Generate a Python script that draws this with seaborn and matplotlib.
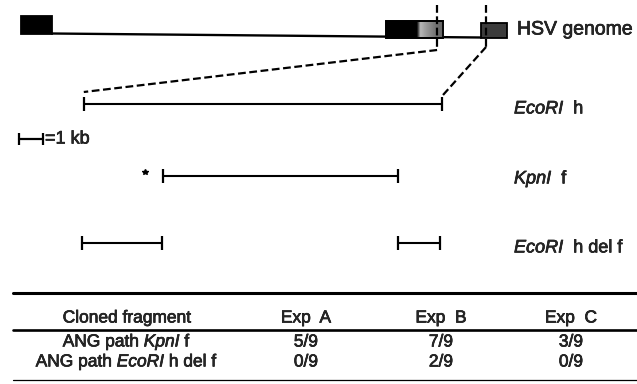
import numpy as np
import pandas as pd
import matplotlib
matplotlib.use("Agg")
import matplotlib.pyplot as plt
import matplotlib.patheffects as pe
from matplotlib.patches import Rectangle
import seaborn as sns

# ---------------- data (map positions in kb) ----------------
fragment_names = ["EcoRI h", "KpnI f", "EcoRI h del f (left)", "EcoRI h del f (right)"]
fragment_start_kb = [2.70, 6.00, 2.62, 15.79]
fragment_end_kb = [17.63, 15.79, 5.96, 17.54]
fragment_track = [0, 1, 2, 2]
track_labels = ["$\\mathit{EcoRI}$  h", "$\\mathit{KpnI}$  f", "$\\mathit{EcoRI}$  h del f"]

genome_line_kb = [1.37, 19.25]
genome_box_start_kb = [0.08, 15.29, 19.25]
genome_box_end_kb = [1.37, 17.67, 20.33]
genome_box_fill = ["black", "black", "#3c3c3c"]
gradient_start_kb = 16.58
zoom_marks_kb = [17.42, 19.46]

scale_bar_kb = [0.0, 1.0]
asterisk_kb = 5.25

table_header = ["Cloned fragment", "Exp  A", "Exp  B", "Exp  C"]
row_labels = ["ANG path $\\mathit{KpnI}$ f", "ANG path $\\mathit{EcoRI}$ h del f"]
exp_a = ["5/9", "0/9"]
exp_b = ["7/9", "2/9"]
exp_c = ["3/9", "0/9"]

# ---------------- layout helpers ----------------
PX_PER_KB = 24.0
ORIGIN_PX = 19.0
W, H = 637, 384


def kb(px):
    return (px - ORIGIN_PX) / PX_PER_KB


track_y = [104, 176, 243]
label_y = [109, 179, 248]

sns.set_theme(style="white")
plt.rcParams["font.family"] = ["Liberation Sans", "DejaVu Sans"]
plt.rcParams["mathtext.fontset"] = "custom"
plt.rcParams["mathtext.rm"] = "Liberation Sans"
plt.rcParams["mathtext.it"] = "Liberation Sans:italic"

ink = [pe.withStroke(linewidth=0.45, foreground="black")]

fig = plt.figure(figsize=(W / 100, H / 100), dpi=100)
ax = fig.add_axes([0, 0, 1, 1])

# fragments as line segments
rows = []
for name, s, e, t in zip(fragment_names, fragment_start_kb, fragment_end_kb, fragment_track):
    rows.append({"seg": name, "x": s, "y": track_y[t]})
    rows.append({"seg": name, "x": e, "y": track_y[t]})
df = pd.DataFrame(rows)
sns.lineplot(data=df, x="x", y="y", units="seg", estimator=None, sort=False,
             color="black", linewidth=1.5, ax=ax, legend=False)
ax.plot(df["x"], df["y"], linestyle="none", marker="|", markersize=10,
        markeredgewidth=1.6, color="black")

# track labels
for lab, y in zip(track_labels, label_y):
    ax.text(kb(514), y, lab, fontsize=13, va="center", ha="left", path_effects=ink)

# asterisk
ax.plot([asterisk_kb], [172], marker="*", markersize=4, color="black", linestyle="none")

# scale bar
sb_y = 139
ax.plot(scale_bar_kb, [sb_y, sb_y], color="black", linewidth=1.6)
ax.plot(scale_bar_kb, [sb_y, sb_y], linestyle="none", marker="|", markersize=8,
        markeredgewidth=1.6, color="black")
ax.text(kb(45), sb_y, "=1 kb", fontsize=13, va="center", ha="left", path_effects=ink)

# genome
ax.plot(genome_line_kb, [33.5, 37.5], color="black", linewidth=1.7)
box_tops = [16, 21, 23]
box_bottoms = [34, 38, 38]
for s, e, fc, t, b in zip(genome_box_start_kb, genome_box_end_kb, genome_box_fill,
                          box_tops, box_bottoms):
    ax.add_patch(Rectangle((s, t), e - s, b - t, facecolor=fc, edgecolor="black",
                           linewidth=1.3, zorder=3))
grad = np.interp(np.linspace(0, 1, 60), [0, 0.12, 0.3, 0.7, 1.0],
                 [0.05, 0.72, 0.62, 0.45, 0.38])
ax.imshow(grad[np.newaxis, :], extent=(gradient_start_kb, genome_box_end_kb[1], 37, 22),
          cmap="gray", vmin=0, vmax=1, aspect="auto", interpolation="bilinear", zorder=4)
ax.add_patch(Rectangle((genome_box_start_kb[1], 21), genome_box_end_kb[1] - genome_box_start_kb[1],
                       17, facecolor="none", edgecolor="black", linewidth=1.3, zorder=5))
ax.text(kb(517), 30, "HSV genome", fontsize=14, va="center", ha="left", path_effects=ink)

# dashed zoom lines
dash = dict(color="black", linewidth=1.6, dashes=(3.5, 1.6), zorder=6)
ax.plot([zoom_marks_kb[0], zoom_marks_kb[0]], [5, 50], **dash)
ax.plot([zoom_marks_kb[1], zoom_marks_kb[1]], [5, 47], **dash)
ax.plot([zoom_marks_kb[0], fragment_start_kb[0]], [50, 92], **dash)
ax.plot([zoom_marks_kb[1], fragment_end_kb[0]], [47, 96], **dash)

# table
ax.plot([kb(13), kb(637)], [293, 293], color="black", linewidth=2.2)
ax.plot([kb(13), kb(637)], [330, 330], color="black", linewidth=1.9)
ax.plot([kb(13), kb(637)], [380, 380], color="black", linewidth=0.9)
col_x = [127, 306, 441, 571]
for x, h in zip(col_x, table_header):
    ax.text(kb(x), 318, h, fontsize=12.5, ha="center", va="center", path_effects=ink)
row_y = [342, 362]
for i, y in enumerate(row_y):
    vals = [row_labels[i], exp_a[i], exp_b[i], exp_c[i]]
    for x, v in zip(col_x, vals):
        ax.text(kb(x), y, v, fontsize=12.5, ha="center", va="center", path_effects=ink)

ax.set_xlim(kb(0), kb(W))
ax.set_ylim(H, 0)
ax.set_axis_off()
fig.savefig("out.png", dpi=100)
